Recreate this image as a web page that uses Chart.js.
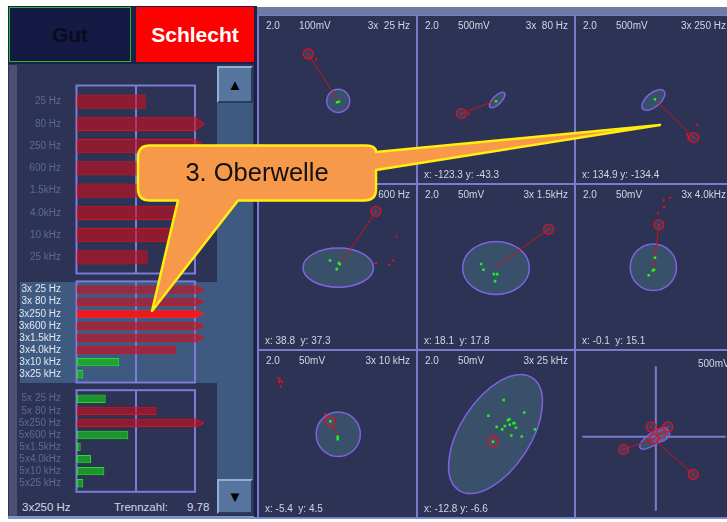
<!DOCTYPE html>
<html lang="de">
<head>
<meta charset="utf-8">
<title>Oberwellen</title>
<script src="https://cdn.jsdelivr.net/npm/chart.js@4/dist/chart.umd.min.js"></script>
<style>
  body { margin: 0; width: 727px; height: 522px; overflow: hidden; background: #fff; position: relative;
         font-family: "Liberation Sans", Arial, sans-serif; }
  div, canvas, span, svg { position: absolute; }
  span { white-space: pre; line-height: 11px; }
  .knopf { top: 7px; height: 55px; box-sizing: border-box; display: flex; align-items: center; justify-content: center;
           font: bold 21px "Liberation Sans", Arial, sans-serif; }
  #kopf { left: 8px; top: 6px; width: 249px; height: 59px; background: #1d2147; }
  #gut { left: 9px; width: 122px; background: #151a44; border: 1px solid #22c022; color: #0b0b1e; }
  #schlecht { left: 136px; width: 118px; background: #fe0000; color: #fff; }
  #links { left: 8px; top: 64px; width: 246px; height: 452px; background: #2d3355; }
  #streifen { left: 9px; top: 65px; width: 8px; height: 451px; background: #4b5074; }
  #spur { left: 217px; top: 66px; width: 36px; height: 446px; background: #3e5a80; }
  #markiert { left: 20px; top: 282px; width: 197px; height: 101px; background: #3e5a80; }
  .pfeil { left: 217px; width: 36px; box-sizing: border-box; background: #56769f; border: 2px solid;
           border-color: #8fb0d6 #2b3b5a #2b3b5a #8fb0d6; display: flex; align-items: center; justify-content: center;
           font-size: 15px; color: #000; }
  #hoch { top: 66px; height: 37px; }
  #runter { top: 479px; height: 35px; }
  #unten { left: 8px; top: 516px; width: 726px; height: 3px; background: #7f93c8; }
  .fuss { top: 501px; font-size: 11.5px; color: #d2d6e6; line-height: 12px; }
  #rechts { left: 254px; top: 7px; width: 480px; height: 510px; background: #1d2147; }
  #leiste { left: 257px; top: 7px; width: 477px; height: 8px; background: #6c7ca4; }
  #gitter { left: 257px; top: 15px; width: 477px; height: 503px; background: #7b7bcb; }
  .feldtext { font-size: 10px; color: #d4d4e4; }
  #blase { left: 0; top: 0; z-index: 10; }
</style>
</head>
<body>
<div id="kopf"></div>
<div id="gut" class="knopf">Gut</div>
<div id="schlecht" class="knopf">Schlecht</div>
<div id="links"></div>
<div id="streifen"></div>
<div id="spur"></div>
<div id="markiert"></div>
<div id="hoch" class="pfeil">▲</div>
<div id="runter" class="pfeil">▼</div>
<canvas id="grund" width="197" height="193" style="left:18px;top:83px"></canvas>
<canvas id="ober3" width="197" height="104" style="left:18px;top:280px"></canvas>
<canvas id="ober5" width="197" height="106" style="left:18px;top:388px"></canvas>
<span id="auswahlText" class="fuss" style="left:22px"></span>
<span class="fuss" style="left:114px">Trennzahl:</span>
<span id="trennText" class="fuss" style="left:187px"></span>
<div id="unten"></div>
<div id="rechts"></div>
<div id="leiste"></div>
<div id="gitter"></div>

<svg id="blase" width="727" height="522">
  <path d="M150 145.5 L366 145.5 Q376 145.5 376 152 L660 125 L376 170 L376 189 Q376 200.5 364 200.5 L238 200.5 L152 311 L178 200.5 L150 200.5 Q138 200.5 138 188.5 L138 157.5 Q138 145.5 150 145.5 Z"
        fill="#f7994a" stroke="#ffee10" stroke-width="2.5" stroke-linejoin="round"/>
  <text x="257" y="180.5" font-family="Liberation Sans, Arial, sans-serif" font-size="25.5" text-anchor="middle" fill="#111">3. Oberwelle</text>
</svg>

<script>
// Trennzahl = Mittellinie der Balkenfelder, Skala geht bis zur doppelten Trennzahl
const trennzahl = 9.78;

const grundLabels = ["25 Hz", "80 Hz", "250 Hz", "600 Hz", "1.5kHz", "4.0kHz", "10 kHz", "25 kHz"];
const grundWerte  = [11.4, 24.0, 23.0, 17.8, 16.2, 18.4, 17.5, 11.7];

const ober3Labels = ["3x 25 Hz", "3x 80 Hz", "3x250 Hz", "3x600 Hz", "3x1.5kHz", "3x4.0kHz", "3x10 kHz", "3x25 kHz"];
const ober3Werte  = [24.5, 23.8, 27.1, 22.4, 21.0, 16.4, 7.0, 1.04];

const ober5Labels = ["5x 25 Hz", "5x 80 Hz", "5x250 Hz", "5x600 Hz", "5x1.5kHz", "5x4.0kHz", "5x10 kHz", "5x25 kHz"];
const ober5Werte  = [4.76, 13.2, 25.0, 8.5, 0.61, 2.32, 4.53, 1.04];

const auswahl = 2; // 3x250 Hz

// Ortskurven, 9 Felder (3x3), Koordinaten je Feld
const feldVerstaerkung = ["2.0", "2.0", "2.0", "2.0", "2.0", "2.0", "2.0", "2.0", ""];
const feldSkala = ["100mV", "500mV", "500mV", "50mV", "50mV", "50mV", "50mV", "50mV", "500mV"];
const feldKanal = ["3x  25 Hz", "3x  80 Hz", "3x 250 Hz", "3x 600 Hz", "3x 1.5kHz", "3x 4.0kHz", "3x 10 kHz", "3x 25 kHz", ""];
const feldPosition = ["", "x: -123.3 y: -43.3", "x: 134.9 y: -134.4", "x: 38.8  y: 37.3", "x: 18.1  y: 17.8",
                      "x: -0.1  y: 15.1", "x: -5.4  y: 4.5", "x: -12.8 y: -6.6", ""];

// [x, y, Halbachse a, Halbachse b, Winkel in Grad]
const ellipsen = [
  [[0.8, -1.5, 12.5, 12.5, 0]],
  [[1.3, -0.5, 11, 4.5, 45]],
  [[-0.7, -0.5, 15, 7.5, 40]],
  [[0.8, -0.7, 38.3, 21.2, 0]],
  [[0, -1, 36.3, 28.7, 0]],
  [[-0.7, -0.3, 25.2, 25.2, 0]],
  [[0.8, -0.3, 24, 24, 0]],
  [[-0.5, 0, 73, 38, 57]],
  [[-2.3, -1.8, 18, 6.5, 35], [5.7, 1, 10, 6, 25]]
];

const messpunkte = [
  [[-31.8, 49.2]],
  [[-37.7, -15.2]],
  [[43.3, -41.2]],
  [[41.8, 60.3]],
  [[57.3, 41]],
  [[5.3, 45.7]],
  [[-8.2, 13.7]],
  [[-3.5, -8]],
  [[-5, 10.7], [13, 10.7], [5.7, 4], [-2.3, -2.3], [-35, -13.7], [40.7, -40.7]]
];

const gruenePunkte = [
  [[-0.5, -3], [1.5, -2.5]],
  [[0, -1.8]],
  [[1, 0.2]],
  [[-8.2, 7], [1.5, 4.3], [2.5, 3], [-0.8, -2.3]],
  [[-16.3, 3.3], [-13.7, -3], [-2.3, -7.7], [1.3, -7.7], [-1, -15.3]],
  [[-1.3, -3.7], [0, -3], [-5.7, -9], [1, 10]],
  [[-7.8, 13.7], [0.2, -3], [0.2, -5.7]],
  [[8.3, 36.7], [30.7, 23.3], [13, 15], [14.7, 16], [19, 11.7], [20, 12], [15, 10], [9.7, 8.7], [0.7, 7.7],
   [21.7, 6.7], [6.7, 5], [42.3, 5], [16.7, -1.7], [28, -2.7], [-3.3, -8.3], [-8.3, 19.7]],
  []
];

const rotePunkte = [
  [[-23.2, 43.5]],
  [[-29.7, -15.2]],
  [[47, -27.2], [36, -37.8], [37.3, -43.2], [37.7, -40.5]],
  [[64.2, 33], [41.8, 4.3], [60.5, 7], [55.8, 2.3]],
  [],
  [[17.7, 75], [10.3, 72.3], [11, 65], [4.3, 58.3]],
  [[-64.2, 60.3], [-62.5, 58.3], [-63.5, 56.3], [-60.2, 56.3], [-61.8, 51.3], [-13.5, 21.3]],
  [],
  []
];

// Zeiger vom Mittelpunkt zum Messpunkt
const zeiger = [
  [[[0.8, -1.5], [-31.8, 49.2]]],
  [[[1.3, -0.5], [-37.7, -15.2]]],
  [[[1, 0.2], [43.3, -41.2]]],
  [[[1.8, 1], [41.8, 60.3]]],
  [[[-1, -0.3], [57.3, 41]]],
  [[[-0.7, -3.7], [5.3, 45.7]]],
  [[[-8.2, 13.7], [0.2, -0.3]]],
  [[[-0.5, 0], [-3.5, -8]]],
  [[[-2.3, -2.3], [-35, -13.7]], [[-2.3, -2.3], [40.7, -40.7]], [[-2.3, -2.3], [5.7, 4]]]
];

const spalten = [[259, 157], [418, 156], [576, 156]];
const zeilen = [[16, 167], [185, 164], [351, 166]];

Chart.defaults.font.family = '"Liberation Sans", Arial, sans-serif';

document.getElementById("auswahlText").textContent = ober3Labels[auswahl];
document.getElementById("trennText").textContent = trennzahl.toFixed(2);

// Rahmen und Mittellinie (Trennzahl) hinter den Balken
const rahmenPlugin = {
  id: "rahmen",
  beforeDatasetsDraw(chart, args, opts) {
    const { ctx, chartArea: a, scales: { x } } = chart;
    const m = opts.rand;
    ctx.save();
    ctx.strokeStyle = "#7b7bd8";
    ctx.lineWidth = 2;
    ctx.strokeRect(a.left - 0.5, a.top - m, a.right - a.left + 0.5, a.bottom - a.top + 2 * m);
    const xm = x.getPixelForValue(trennzahl);
    ctx.beginPath();
    ctx.moveTo(xm, a.top - m);
    ctx.lineTo(xm, a.bottom + m);
    ctx.stroke();
    ctx.restore();
  }
};

// Pfeilspitze fuer Balken ueber dem Skalenende
const pfeilPlugin = {
  id: "pfeil",
  afterDatasetsDraw(chart) {
    const { ctx, chartArea: a, scales: { x } } = chart;
    const ds = chart.data.datasets[0];
    chart.getDatasetMeta(0).data.forEach((bar, i) => {
      if (ds.data[i] <= x.max) return;
      const h = bar.height / 2;
      ctx.save();
      ctx.beginPath();
      ctx.moveTo(a.right, bar.y - h);
      ctx.lineTo(a.right + 9, bar.y);
      ctx.lineTo(a.right, bar.y + h);
      ctx.fillStyle = ds.backgroundColor[i];
      ctx.fill();
      ctx.strokeStyle = ds.borderColor[i];
      ctx.lineWidth = 1;
      ctx.stroke();
      ctx.restore();
    });
  }
};

function balken(id, labels, werte, farbe, oben, unten, rand, anteil, markiert) {
  new Chart(document.getElementById(id), {
    type: "bar",
    data: {
      labels: labels,
      datasets: [{
        data: werte,
        backgroundColor: werte.map((w, i) => i === markiert ? "rgba(245,22,22,0.92)" : w > trennzahl ? "rgba(200,15,30,0.62)" : "rgba(20,190,30,0.7)"),
        borderColor: werte.map((w, i) => i === markiert ? "#ff2020" : w > trennzahl ? "#e01018" : "#28e028"),
        borderWidth: 1,
        borderSkipped: false,
        barPercentage: anteil,
        categoryPercentage: 1
      }]
    },
    options: {
      indexAxis: "y",
      responsive: false,
      animation: false,
      layout: { padding: { top: oben, bottom: unten, right: 20, left: 0 } },
      plugins: { legend: { display: false }, tooltip: { enabled: false }, rahmen: { rand: rand } },
      scales: {
        x: { min: 0, max: 2 * trennzahl, display: false },
        y: {
          grid: { display: false },
          border: { display: false },
          ticks: { color: farbe, font: { size: 10 }, padding: 8, autoSkip: false },
          afterFit: s => { s.width = 59; s.paddingTop = 0; s.paddingBottom = 0; }
        }
      }
    },
    plugins: [rahmenPlugin, pfeilPlugin]
  });
}

balken("grund", grundLabels, grundWerte, "#5b6b90", 7.5, 7.5, 5, 0.64, -1);
balken("ober3", ober3Labels, ober3Werte, "#e4e6f0", 3.6, 3.7, 2.2, 0.69, auswahl);
balken("ober5", ober5Labels, ober5Werte, "#5b6b90", 4.7, 4.7, 2.5, 0.69, -1);

function ellipsenPlugin(liste) {
  return {
    id: "ellipsen",
    beforeDatasetsDraw(chart) {
      const { ctx, scales: { x, y } } = chart;
      const sx = Math.abs(x.getPixelForValue(1) - x.getPixelForValue(0));
      const sy = Math.abs(y.getPixelForValue(1) - y.getPixelForValue(0));
      liste.forEach(([ex, ey, ea, eb, w]) => {
        ctx.save();
        ctx.beginPath();
        ctx.ellipse(x.getPixelForValue(ex), y.getPixelForValue(ey), ea * sx, eb * sy, -w * Math.PI / 180, 0, 2 * Math.PI);
        ctx.fillStyle = "rgba(75,120,135,0.42)";
        ctx.fill();
        ctx.strokeStyle = "#7f62e0";
        ctx.lineWidth = 1.5;
        ctx.stroke();
        ctx.restore();
      });
    }
  };
}

const achsenkreuz = {
  id: "achsenkreuz",
  beforeDatasetsDraw(chart) {
    const { ctx, chartArea: a, scales: { x, y } } = chart;
    const x0 = x.getPixelForValue(0), y0 = y.getPixelForValue(0);
    ctx.save();
    ctx.strokeStyle = "#7b7bcb";
    ctx.lineWidth = 2;
    ctx.beginPath();
    ctx.moveTo(x0, a.top + 9);
    ctx.lineTo(x0, a.bottom);
    ctx.moveTo(a.left, y0);
    ctx.lineTo(a.right, y0);
    ctx.stroke();
    ctx.restore();
  }
};

function text(inhalt, links, oben, stil) {
  if (!inhalt) return;
  const s = document.createElement("span");
  s.className = "feldtext";
  s.textContent = inhalt;
  s.style.cssText = `left:${links}px;top:${oben}px;` + (stil || "");
  document.body.appendChild(s);
}

const punkte = l => l.map(([x, y]) => ({ x, y }));

for (let i = 0; i < 9; i++) {
  const [fx, fw] = spalten[i % 3];
  const [fy, fh] = zeilen[Math.floor(i / 3)];
  const kreuz = i === 8;
  const [vx, vy] = kreuz ? [2, -3] : [0, 0];

  const canvas = document.createElement("canvas");
  canvas.width = fw;
  canvas.height = fh;
  canvas.style.cssText = `left:${fx}px;top:${fy}px;background:#2d3355`;
  document.body.appendChild(canvas);

  new Chart(canvas, {
    type: "scatter",
    data: {
      datasets: [
        { data: punkte(gruenePunkte[i]), pointStyle: "rect", pointRadius: 1.8, backgroundColor: "#1ef01e", borderWidth: 0 },
        { data: punkte(messpunkte[i]), pointRadius: 1, backgroundColor: "#f01212", borderWidth: 0 },
        { data: punkte(messpunkte[i]), pointRadius: 5, backgroundColor: "rgba(80,85,125,0.35)", borderColor: "#e0101c", borderWidth: 1.3 },
        { data: punkte(rotePunkte[i]), pointStyle: "rect", pointRadius: 1.4, backgroundColor: "#f01212", borderWidth: 0 },
        ...zeiger[i].map(z => ({ type: "line", data: punkte(z), borderColor: "#d0101c", borderWidth: 1, pointRadius: 0 }))
      ]
    },
    options: {
      responsive: false,
      animation: false,
      layout: { padding: 0 },
      plugins: { legend: { display: false }, tooltip: { enabled: false } },
      scales: {
        x: { type: "linear", min: -fw / 2 - vx, max: fw / 2 - vx, display: false },
        y: { type: "linear", min: -fh / 2 - vy, max: fh / 2 - vy, display: false }
      }
    },
    plugins: kreuz ? [achsenkreuz, ellipsenPlugin(ellipsen[i])] : [ellipsenPlugin(ellipsen[i])]
  });

  text(feldVerstaerkung[i], fx + 7, fy + 4);
  if (kreuz) text(feldSkala[i], fx + 122, fy + 7);
  else text(feldSkala[i], fx + 40, fy + 4);
  text(feldKanal[i], fx + fw - 6, fy + 4, "transform:translateX(-100%)");
  text(feldPosition[i], fx + 6, fy + fh - 14);
}
</script>
</body>
</html>
